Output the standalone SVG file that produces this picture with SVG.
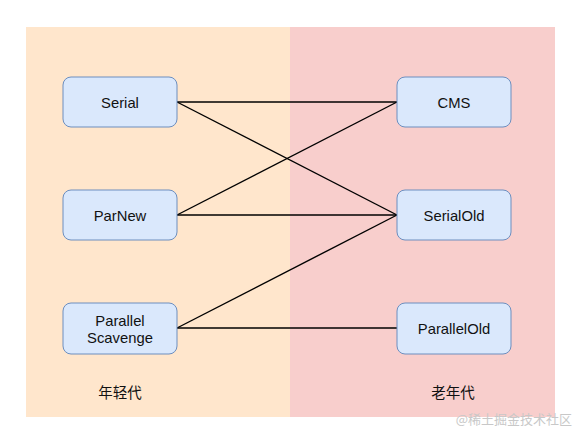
<svg xmlns="http://www.w3.org/2000/svg" width="586" height="438" viewBox="0 0 586 438">
<style>
.node rect{fill:#dae8fc;stroke:#6c8ebf;stroke-width:1}
.node text{font-family:"Liberation Sans",Arial,sans-serif;font-size:14.8px;fill:#111;text-anchor:middle}
.lbl{font-family:"Noto Sans CJK SC",sans-serif;font-size:14.5px;fill:#111;text-anchor:middle}
.conn line{stroke:#000;stroke-width:1.4}
</style>
<rect width="586" height="438" fill="#fff"/>
<g id="young-panel"><rect x="26" y="27" width="264" height="390" fill="#ffe6cc"/></g>
<g id="old-panel"><rect x="290" y="27" width="265" height="390" fill="#f8cecc"/></g>
<g id="connectors" class="conn">
<line x1="177" y1="102" x2="397" y2="102"/>
<line x1="177" y1="102" x2="397" y2="215"/>
<line x1="177" y1="215" x2="397" y2="102"/>
<line x1="177" y1="215" x2="397" y2="215"/>
<line x1="177" y1="328" x2="397" y2="215"/>
<line x1="177" y1="328" x2="397" y2="328"/>
</g>
<g id="serial" class="node"><rect x="63" y="77" width="114" height="50" rx="8"/><text x="120" y="108">Serial</text></g>
<g id="parnew" class="node"><rect x="63" y="190" width="114" height="50" rx="8"/><text x="120" y="221">ParNew</text></g>
<g id="parallel-scavenge" class="node"><rect x="63" y="303" width="114" height="51" rx="8"/><text x="120" y="326">Parallel</text><text x="120" y="343">Scavenge</text></g>
<g id="cms" class="node"><rect x="397" y="77" width="114" height="50" rx="8"/><text x="454" y="108">CMS</text></g>
<g id="serialold" class="node"><rect x="397" y="190" width="114" height="50" rx="8"/><text x="454" y="221">SerialOld</text></g>
<g id="parallelold" class="node"><rect x="397" y="303" width="114" height="51" rx="8"/><text x="454" y="334">ParallelOld</text></g>
<text class="lbl" x="120" y="398">年轻代</text>
<text class="lbl" x="453" y="398">老年代</text>
<text x="572" y="424" font-family="Noto Sans CJK SC,sans-serif" font-size="13" fill="#c8c8c8" text-anchor="end">@稀土掘金技术社区</text>
</svg>
